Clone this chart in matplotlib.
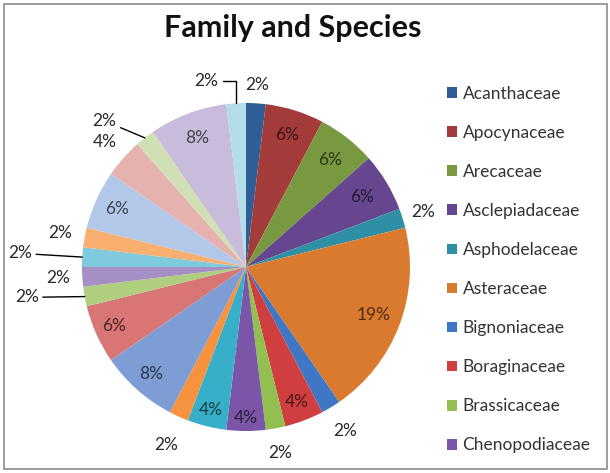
import numpy as np
import matplotlib.pyplot as plt
from matplotlib.patches import Patch, Rectangle

plt.rcParams['font.family'] = ['Lato', 'DejaVu Sans']

# familias que aparecen en la leyenda (Excel solo muestra las 10 primeras)
familias = ["Acanthaceae", "Apocynaceae", "Arecaceae", "Asclepiadaceae",
            "Asphodelaceae", "Asteraceae", "Bignoniaceae", "Boraginaceae",
            "Brassicaceae", "Chenopodiaceae"]
# numero de especies por familia, en el orden de las porciones
especies = [1, 3, 3, 3, 1, 10, 1, 2, 1, 2, 2, 1, 4, 3, 1, 1, 1, 1, 3, 2, 1, 4, 1]

colores = ["#2F5D95", "#A33B3A", "#78993F", "#66468F", "#2F8FA5", "#DA7A2E",
           "#3F77C4", "#CF3F3F", "#92BF4F", "#7A55A8", "#38AFC9", "#F7923F",
           "#7F9DD5", "#D87575", "#AFCF7F", "#A590C5", "#7FCBDD", "#F8AF70",
           "#B3C7E8", "#E6B2B0", "#CFE0B5", "#C8BCDA", "#B3DDE8"]

# distancia de cada etiqueta (fraccion del radio) y giro extra en grados
lab_r = [1.11, .84, .83, .83, 1.13, .83, 1.17, .88, 1.15, .92, .90, 1.19,
         .87, .88, 1.35, 1.15, 1.38, 1.15, .86, 1.15, 1.24, .84, 1.16]
lab_giro = [0]*23
lab_giro[14] = 2.5
lab_giro[20] = -6
lab_giro[22] = -8.5
con_linea = [14, 16, 20, 22]

fig = plt.figure(figsize=(6.1, 4.73), dpi=100)
fig.patches.append(Rectangle((4/610, 4/473), 603/610, 465/473, transform=fig.transFigure,
                             fill=False, edgecolor="#8c8c8c", lw=1.2))

R = 164
cx, cy = 246, 473-267
ax = fig.add_axes([(cx-R)/610, (cy-R)/473, 2*R/610, 2*R/473])
cunas, _ = ax.pie(especies, colors=colores, startangle=90, counterclock=False,
                  wedgeprops=dict(linewidth=0))
ax.set_xlim(-1, 1)
ax.set_ylim(-1, 1)
ax.set_axis_off()

total = sum(especies)
acum = np.cumsum(especies) - np.array(especies)/2
for i, c in enumerate(especies):
    th = np.deg2rad(acum[i]/total*360)
    txt = "%.0f%%" % (100.0*c/total)
    tl = th + np.deg2rad(lab_giro[i])
    x, y = lab_r[i]*np.sin(tl), lab_r[i]*np.cos(tl)
    if lab_r[i] < 1:
        col = np.array(plt.matplotlib.colors.to_rgb(colores[i]))*0.35
    else:
        col = "#2a2a2a"
    if i in con_linea:
        if i == 22:
            cs = "angle,angleA=0,angleB=90,rad=0"
        else:
            cs = "arc3"
        ax.annotate(txt, xy=(np.sin(th), np.cos(th)), xytext=(x, y),
                    ha="center", va="center", fontsize=12.5, color=col,
                    arrowprops=dict(arrowstyle="-", color="black", lw=1,
                                    shrinkA=1, shrinkB=0, connectionstyle=cs))
    else:
        ax.text(x, y, txt, ha="center", va="center", fontsize=12.5, color=col)

fig.text(293/610, 1-28/473, "Family and Species", ha="center", va="center",
         fontsize=22, fontweight="bold", color="#111111")

manejadores = [Patch(facecolor=colores[i], edgecolor="none") for i in range(len(familias))]
fig.legend(manejadores, familias, loc="upper left", bbox_to_anchor=(431/610, 1-70/473),
           frameon=False, fontsize=12.5, handlelength=0.57, handleheight=0.57,
           handletextpad=0.35, labelspacing=1.33, labelcolor="#333333")

plt.savefig("out.png")
